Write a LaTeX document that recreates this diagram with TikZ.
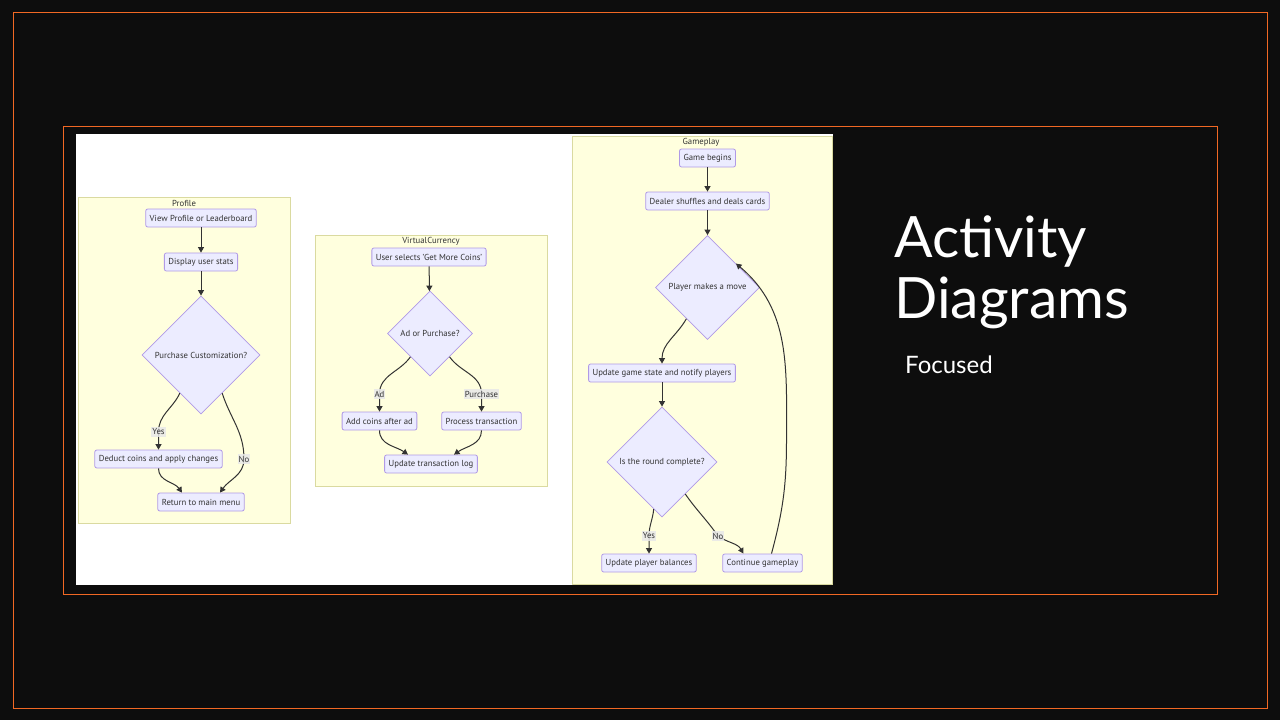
\documentclass[tikz,border=0pt]{standalone}
\usepackage{fontspec}
\setmainfont{PT Sans}
\newfontfamily\titlefont{Lato}
\usetikzlibrary{shapes.geometric,arrows.meta}
\definecolor{slidebg}{RGB}{13,13,13}
\definecolor{frameorange}{RGB}{241,104,36}
\definecolor{clusterfill}{HTML}{FFFFDE}
\definecolor{clusterline}{HTML}{DADAA0}
\definecolor{nodefill}{HTML}{ECECFF}
\definecolor{nodeline}{HTML}{B09AE6}
\definecolor{inkgrey}{HTML}{333333}
\tikzset{
  cluster/.style={draw=clusterline, fill=clusterfill, line width=0.9pt},
  clustertitle/.style={font=\fontsize{8.7}{10}\selectfont, text=inkgrey, inner sep=0pt},
  procbox/.style={draw=nodeline, fill=nodefill, line width=0.8pt, rounded corners=2pt,
    minimum height=18pt, inner xsep=4pt, inner ysep=0pt,
    font=\fontsize{8.7}{10}\selectfont, text=inkgrey},
  decision/.style={diamond, draw=nodeline, fill=nodefill, line width=0.8pt, inner sep=0pt,
    font=\fontsize{8.7}{10}\selectfont, text=inkgrey},
  flow/.style={draw=inkgrey, line width=1pt, -{Triangle[length=5.5pt,width=6pt]}},
  edgelabel/.style={fill=gray!18, fill opacity=0.85, text opacity=1, inner xsep=1pt, inner ysep=1.5pt,
    font=\fontsize{8.7}{10}\selectfont, text=inkgrey}
}
\begin{document}
\begin{tikzpicture}[x=1pt,y=-1pt]
    % slide background and frames
    \fill[slidebg] (0,0) rectangle (1280,720);
    \useasboundingbox (0,0) rectangle (1280,720);
    \draw[frameorange, line width=1pt] (13,12.5) rectangle (1267,708);
    \draw[frameorange, line width=1pt] (63.5,126.5) rectangle (1217,594);
    \fill[white] (76,134) rectangle (833,585);

    % Profile
    \draw[cluster] (78,197) rectangle (290,523);
    \node[clustertitle] (proftitle) at (184,203) {Profile};
    \node[procbox] (vp) at (201,218) {View Profile or Leaderboard};
    \node[procbox] (ds) at (201,262) {Display user stats};
    \node[decision, minimum width=118pt, minimum height=118pt] (pc) at (201,355) {Purchase Customization?};
    \node[procbox] (dc) at (158.5,459) {Deduct coins and apply changes};
    \node[procbox] (rm) at (201,502) {Return to main menu};
    \draw[flow] (vp) -- (ds);
    \draw[flow] (ds) -- (pc);
    \draw[flow] (pc.-119) to[out=-115,in=90] (158.5,432) node[edgelabel] {Yes} -- (dc.north);
    \draw[flow] (pc.-61) to[out=-72,in=90] (244,459) node[edgelabel] {No} to[out=-90,in=55] ([xshift=19pt]rm.north);
    \draw[flow] (dc.south) to[out=-90,in=125] ([xshift=-19pt]rm.north);

    % VirtualCurrency
    \draw[cluster] (315,235) rectangle (547,486);
    \node[clustertitle] (vctitle) at (431,241) {VirtualCurrency};
    \node[procbox] (us) at (429,257) {User selects 'Get More Coins'};
    \node[decision, minimum width=85pt, minimum height=85pt] (ap) at (430,333.5) {Ad or Purchase?};
    \node[procbox] (ac) at (379.5,421) {Add coins after ad};
    \node[procbox] (pt) at (481.5,421) {Process transaction};
    \node[procbox] (ul) at (431,464) {Update transaction log};
    \draw[flow] (us) -- (ap);
    \draw[flow] (ap.-130) to[out=-125,in=90] (379.5,394) node[edgelabel] {Ad} -- (ac.north);
    \draw[flow] (ap.-50) to[out=-55,in=90] (481.5,394) node[edgelabel] {Purchase} -- (pt.north);
    \draw[flow] (ac.south) to[out=-90,in=145] ([xshift=-23pt]ul.north);
    \draw[flow] (pt.south) to[out=-90,in=35] ([xshift=23pt]ul.north);

    % Gameplay
    \draw[cluster] (572,136) rectangle (832,584);
    \node[clustertitle] (gptitle) at (701,142) {Gameplay};
    \node[procbox] (gb) at (707.5,158) {Game begins};
    \node[procbox] (sd) at (707.5,201) {Dealer shuffles and deals cards};
    \node[decision, minimum width=104pt, minimum height=104pt] (pm) at (707.5,287.5) {Player makes a move};
    \node[procbox] (un) at (662,373) {Update game state and notify players};
    \node[decision, minimum width=110pt, minimum height=110pt] (rc) at (662,462) {Is the round complete?};
    \node[procbox] (ub) at (649,563) {Update player balances};
    \node[procbox] (cg) at (762.5,563) {Continue gameplay};
    \draw[flow] (gb) -- (sd);
    \draw[flow] (sd) -- (pm);
    \draw[flow] (pm.-124) to[out=-120,in=90] (un.north);
    \draw[flow] (un) -- (rc);
    \draw[flow] (rc.-100) to[out=-95,in=90] (649,536) node[edgelabel] {Yes} -- (ub.north);
    \draw[flow] (rc.-54) to[out=-55,in=125] (718,536) node[edgelabel] {No} to[out=-35,in=120] ([xshift=-19pt]cg.north);
    \draw[flow] ([xshift=9pt]cg.north) to[out=75,in=-90] (786.5,440) to[out=90,in=-40] (pm.40);

    % slide title
    \node[anchor=base west, inner sep=0pt, text=white, font=\titlefont\fontsize{57}{58}\selectfont] (title1) at (894,257) {Activity};
    \node[anchor=base west, inner sep=0pt, text=white, font=\titlefont\fontsize{57}{58}\selectfont] (title2) at (894,318) {Diagrams};
    \node[anchor=base west, inner sep=0pt, text=white, font=\titlefont\fontsize{24}{25}\selectfont] (subtitle) at (905,373) {Focused};
\end{tikzpicture}
\end{document}
